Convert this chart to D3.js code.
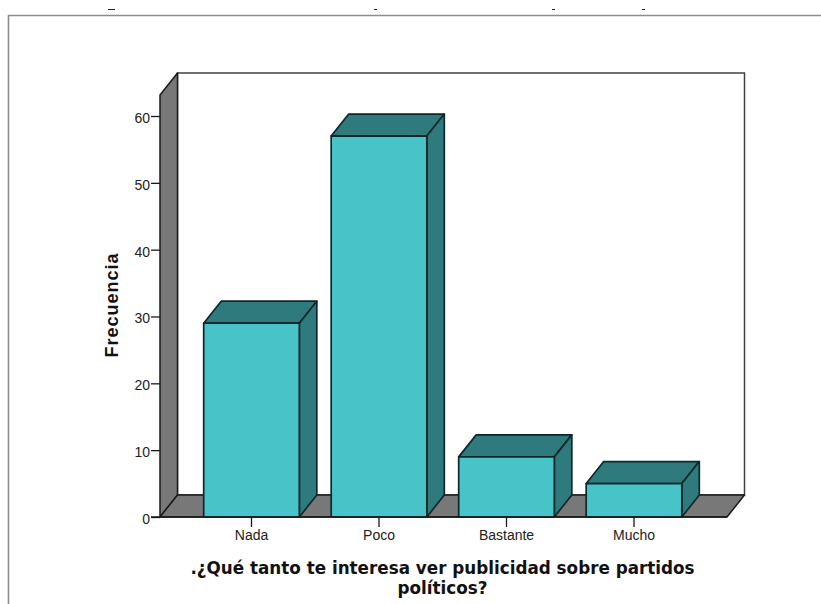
<!DOCTYPE html>
<html lang="es">
<head>
<meta charset="utf-8">
<script src="https://cdn.jsdelivr.net/npm/d3@7"></script>
<style>
  html, body { margin: 0; padding: 0; background: #fff; }
  svg { display: block; }
</style>
</head>
<body>
<svg id="chart" width="821" height="604"></svg>
<script>
const categories = ["Nada", "Poco", "Bastante", "Mucho"];
const frequencies = [29, 57, 9, 5];
const yTicks = [0, 10, 20, 30, 40, 50, 60];
const xTitleLines = [".¿Qué tanto te interesa ver publicidad sobre partidos", "políticos?"];
const yTitle = "Frecuencia";

const svg = d3.select("#chart");

// Plot box and oblique offset used for the 3-D projection
const floorLeft = 160, floorRight = 727, baseY = 517, topY = 95;
const depthX = 17.5, depthY = 22;

const x = d3.scaleBand()
  .domain(categories)
  .range([187.75, 697.75])
  .paddingInner(0.25)
  .paddingOuter(0.125);

const y = d3.scaleLinear().domain([0, 60]).range([baseY, 116]);

const ink = "#1a1a1a", wallFill = "#787878", faceFill = "#48c4c8", sideFill = "#2e7a7c";

const poly = pts => d3.line()(pts) + "Z";

// Window frame around the chart and remnants of clipped text above it
svg.append("path")
  .attr("d", "M8.5,604V15.5H821")
  .attr("fill", "none")
  .attr("stroke", "#8c8c8c")
  .attr("stroke-width", 1.6);

svg.selectAll("line.clip-mark")
  .data([108, 374, 552, 642])
  .join("line")
  .attr("class", "clip-mark")
  .attr("x1", d => d)
  .attr("x2", (d, i) => d + (i === 0 ? 7 : 3))
  .attr("y1", 9.5)
  .attr("y2", 9.5)
  .attr("stroke", "#222")
  .attr("stroke-width", 1);

// Back wall
svg.append("rect")
  .attr("x", floorLeft + depthX)
  .attr("y", topY - depthY)
  .attr("width", floorRight - floorLeft)
  .attr("height", baseY - topY)
  .attr("fill", "#fff")
  .attr("stroke", "#404040")
  .attr("stroke-width", 1.5);

// Left wall
svg.append("path")
  .attr("d", poly([
    [floorLeft, baseY],
    [floorLeft, topY],
    [floorLeft + depthX, topY - depthY],
    [floorLeft + depthX, baseY - depthY]
  ]))
  .attr("fill", wallFill)
  .attr("stroke", ink)
  .attr("stroke-width", 1.5)
  .attr("stroke-linejoin", "round");

// Floor
svg.append("path")
  .attr("d", poly([
    [floorLeft, baseY],
    [floorLeft + depthX, baseY - depthY],
    [floorRight + depthX, baseY - depthY],
    [floorRight, baseY]
  ]))
  .attr("fill", wallFill)
  .attr("stroke", ink)
  .attr("stroke-width", 1.5)
  .attr("stroke-linejoin", "round");

// Bars: front face, top and right side
const bars = svg.selectAll("g.bar")
  .data(categories.map((c, i) => ({ c, v: frequencies[i] })))
  .join("g")
  .attr("class", "bar")
  .attr("stroke", "#0c2829")
  .attr("stroke-width", 1.7)
  .attr("stroke-linejoin", "round");

bars.append("path")
  .attr("fill", sideFill)
  .attr("d", d => {
    const l = x(d.c), r = l + x.bandwidth(), t = y(d.v);
    return poly([[l, t], [l + depthX, t - depthY], [r + depthX, t - depthY], [r, t]]);
  });

bars.append("path")
  .attr("fill", sideFill)
  .attr("d", d => {
    const r = x(d.c) + x.bandwidth(), t = y(d.v);
    return poly([[r, t], [r + depthX, t - depthY], [r + depthX, baseY - depthY], [r, baseY]]);
  });

bars.append("rect")
  .attr("fill", faceFill)
  .attr("x", d => x(d.c))
  .attr("y", d => y(d.v))
  .attr("width", x.bandwidth())
  .attr("height", d => baseY - y(d.v));

// Axes
const yAxis = svg.append("g")
  .attr("transform", `translate(${floorLeft},0)`)
  .call(d3.axisLeft(y).tickValues(yTicks).tickSize(9).tickPadding(1).tickSizeOuter(0));

const xAxis = svg.append("g")
  .attr("transform", `translate(0,${baseY})`)
  .call(d3.axisBottom(x).tickSize(10).tickPadding(3).tickSizeOuter(0));

yAxis.select(".domain").remove();
xAxis.select(".domain")
  .attr("d", `M${floorLeft - 9},0H${floorRight}`)
  .attr("stroke", ink)
  .attr("stroke-width", 1.5);

[yAxis, xAxis].forEach(a => {
  a.selectAll(".tick line").attr("stroke", ink).attr("stroke-width", 1.3);
  a.selectAll(".tick text")
    .attr("fill", "#222")
    .style("font-family", "'Liberation Sans', Arial, sans-serif")
    .style("font-size", "14px");
});
yAxis.selectAll(".tick text").attr("dy", "0.46em");

// Axis titles
svg.append("text")
  .attr("transform", "translate(118,305) rotate(-90)")
  .attr("text-anchor", "middle")
  .style("font-family", "'Liberation Sans', Arial, sans-serif")
  .style("font-weight", "bold")
  .style("font-size", "18px")
  .style("letter-spacing", "1px")
  .attr("fill", "#111")
  .text(yTitle);

svg.selectAll("text.x-title")
  .data(xTitleLines)
  .join("text")
  .attr("class", "x-title")
  .attr("x", 442.5)
  .attr("y", (d, i) => 574 + i * 19.5)
  .attr("text-anchor", "middle")
  .style("font-family", "'DejaVu Sans', Verdana, sans-serif")
  .style("font-weight", "bold")
  .style("font-size", "16.8px")
  .attr("fill", "#111")
  .text(d => d);
</script>
</body>
</html>
